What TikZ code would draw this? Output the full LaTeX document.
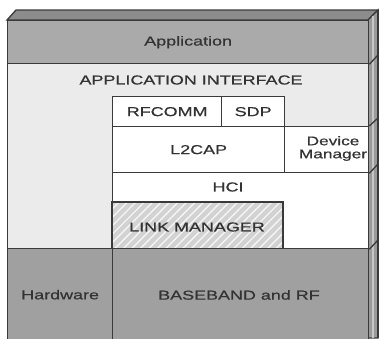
\documentclass[tikz,border=0pt]{standalone}
\usepackage{fontspec}
\setmainfont[FakeStretch=1.38,FakeBold=0.7]{Liberation Sans}
\usetikzlibrary{patterns.meta}
\definecolor{edge}{HTML}{3A3A3A}
\definecolor{txt}{HTML}{333333}
\definecolor{appfill}{HTML}{AAAAAA}
\definecolor{apifill}{HTML}{EBEBEB}
\definecolor{lowfill}{HTML}{A0A0A0}
\definecolor{topfill}{HTML}{8C8C8C}
\definecolor{sidefill}{HTML}{9A9A9A}
\definecolor{lmfill}{HTML}{D2D2D2}
\tikzset{
  layer/.style={draw=edge, line width=1.3pt, inner sep=0pt, anchor=north west, text=txt, font=\fontsize{13}{15}\selectfont},
  lbl/.style={inner sep=0pt, text=txt, font=\fontsize{13}{15}\selectfont, align=center},
  sideline/.style={draw=edge, line width=1.3pt}
}
\begin{document}
\begin{tikzpicture}[x=1pt,y=-1pt]
\useasboundingbox (0,0) rectangle (379,338);
% 3D top and side faces
\coordinate (tfl) at (7,20);
\coordinate (tbl) at (16,10);
\coordinate (tbr) at (378,10);
\coordinate (tfr) at (368,20);
\coordinate (sbr) at (378,338);
\coordinate (sbf) at (368,338);
\filldraw[fill=topfill, draw=edge, line width=1.3pt] (tfl) -- (tbl) -- (tbr) -- (tfr) -- cycle;
\filldraw[fill=sidefill, draw=edge, line width=1.3pt] (tfr) -- (tbr) -- (sbr) -- (sbf) -- cycle;
\draw[gray!45, line width=1.5pt] (373,16) -- (373,338);
% layers
\node[layer, fill=appfill, minimum width=361pt, minimum height=43pt] (app) at (7,20) {Application};
\node[layer, fill=apifill, minimum width=361pt, minimum height=185pt] (api) at (7,63) {};
\node[lbl] (apit) at (191,80) {APPLICATION INTERFACE};
\node[layer, fill=white, minimum width=109pt, minimum height=30pt] (rfcomm) at (112,96) {RFCOMM};
\node[layer, fill=white, minimum width=63pt, minimum height=30pt] (sdp) at (221,96) {SDP};
\node[layer, fill=white, minimum width=172pt, minimum height=46pt] (l2cap) at (112,126) {L2CAP};
\node[layer, fill=white, minimum width=84pt, minimum height=46pt] (devm) at (284,126) {};
\node[lbl, font=\fontsize{12.5}{13}\selectfont] (devmt) at (333,148.5) {Device\\Manager};
\node[layer, fill=white, minimum width=256pt, minimum height=76pt] (hci) at (112,172) {};
\node[lbl] (hcit) at (228,187) {HCI};
\node[layer, preaction={fill=lmfill}, pattern={Lines[angle=45,distance=6pt,line width=1.4pt]}, pattern color=white!92!gray, minimum width=170pt, minimum height=46pt] (lm) at (112,202) {};
\draw[draw=edge, line width=1.3pt] (lm.south west) -- (lm.north west) -- (lm.north east) -- (lm.south east);
\node[lbl] (lmt) at (197,227) {LINK MANAGER};
\node[layer, fill=lowfill, minimum width=105pt, minimum height=92pt] (hw) at (7,248) {Hardware};
\node[layer, fill=lowfill, minimum width=256pt, minimum height=92pt] (bb) at (112,248) {};
\node[lbl] (bbt) at (239,295) {BASEBAND and RF};
% side face layer boundaries
\coordinate (s1) at (378,55);
\coordinate (s2) at (378,118);
\coordinate (s3) at (378,164);
\coordinate (s4) at (378,240);
\draw[sideline] (app.south east) -- (s1);
\draw[sideline] (devm.north east) -- (s2);
\draw[sideline] (devm.south east) -- (s3);
\draw[sideline] (hci.south east) -- (s4);
\draw[draw=edge, line width=1.3pt] (tbr) -- (sbr);
\end{tikzpicture}
\end{document}
